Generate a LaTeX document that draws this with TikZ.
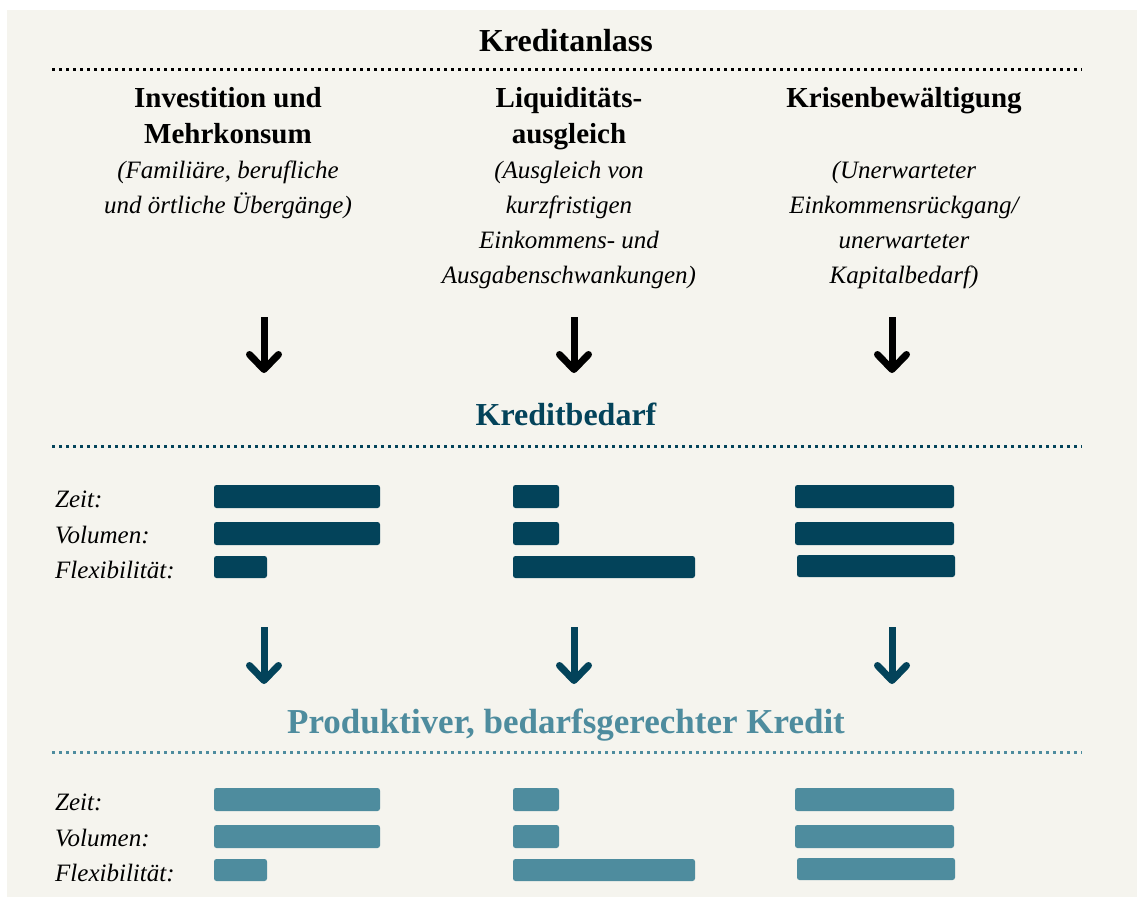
\documentclass[tikz,border=0pt]{standalone}
\usepackage{fontspec}
\setmainfont{Liberation Serif}
\usepackage{tikz}
\usetikzlibrary{arrows.meta,positioning,calc}
\definecolor{hintergrund}{RGB}{245,244,238}
\definecolor{dunkelblau}{RGB}{3,67,90}
\definecolor{hellblau}{RGB}{78,140,158}

\begin{document}
\begin{tikzpicture}[x=1pt,y=1pt]
\tikzstyle{pfeil}=[-{Straight Barb[length=15pt,width=29pt,round]},line width=7pt]
\tikzstyle{titel}=[font=\fontsize{32}{38}\selectfont\bfseries,inner sep=0pt,anchor=base]
\tikzstyle{kopf}=[font=\fontsize{29}{36}\selectfont\bfseries,align=center,inner sep=0pt,anchor=base]
\tikzstyle{erklaerung}=[font=\fontsize{25}{35}\selectfont\itshape,align=center,inner sep=0pt,anchor=base]
\tikzstyle{merkmal}=[font=\fontsize{25}{35}\selectfont\itshape,inner sep=0pt,anchor=base west]
\tikzstyle{balken}=[rounded corners=2.5pt]
\tikzstyle{punktlinie}=[line width=3pt,dash pattern=on 3pt off 4pt]
% Grundlinien (jeweils letzte Zeile)
\def\ZeileTitel{-51}
\def\ZeileKopfEins{-107}
\def\ZeileKopfZwei{-143}
\def\ZeileTextZwei{-213}
\def\ZeileTextVier{-283}
\def\ZeileBedarf{-425}
\def\ZeileKredit{-733}
\def\SpalteA{228}
\def\SpalteB{569}
\def\SpalteC{904}
\def\Mitte{566}
\def\Links{55}
% Rahmen
\useasboundingbox (0,0) rectangle (1144,-900);
\fill[hintergrund] (7,-10) rectangle (1137,-897);
% Kreditanlass
\node[titel] (Anlass) at (\Mitte,\ZeileTitel) {Kreditanlass};
\draw[punktlinie,black] (52,-69) -- (1082,-69);
\node[kopf] (KopfA) at (\SpalteA,\ZeileKopfZwei) {Investition und\\Mehrkonsum};
\node[kopf] (KopfB) at (\SpalteB,\ZeileKopfZwei) {Liquiditäts-\\ausgleich};
\node[kopf] (KopfC) at (\SpalteC,\ZeileKopfEins) {Krisenbewältigung};
\node[erklaerung] (TextA) at (\SpalteA,\ZeileTextZwei) {(Familiäre, berufliche\\und örtliche Übergänge)};
\node[erklaerung] (TextB) at (\SpalteB,\ZeileTextVier) {(Ausgleich von\\kurzfristigen\\Einkommens- und\\Ausgabenschwankungen)};
\node[erklaerung] (TextC) at (\SpalteC,\ZeileTextVier) {(Unerwarteter\\Einkommensrückgang/\\unerwarteter\\Kapitalbedarf)};
% Pfeile
\coordinate (PfeilAoben) at (264,-317);
\coordinate (PfeilAunten) at (264,-373);
\coordinate (PfeilBoben) at (574,-317);
\coordinate (PfeilBunten) at (574,-373);
\coordinate (PfeilCoben) at (892,-317);
\coordinate (PfeilCunten) at (892,-373);
\draw[pfeil,black] (PfeilAoben) -- (PfeilAunten);
\draw[pfeil,black] (PfeilBoben) -- (PfeilBunten);
\draw[pfeil,black] (PfeilCoben) -- (PfeilCunten);
% Kreditbedarf
\node[titel,text=dunkelblau] (Bedarf) at (\Mitte,\ZeileBedarf) {Kreditbedarf};
\draw[punktlinie,dunkelblau] (52,-446) -- (1082,-446);
\node[merkmal] (ZeitA) at (\Links,-507) {Zeit:};
\node[merkmal] (VolumenA) at (\Links,-543) {Volumen:};
\node[merkmal] (FlexA) at (\Links,-578) {Flexibilität:};
\fill[dunkelblau,balken] (214,-485) rectangle (380,-508);
\fill[dunkelblau,balken] (214,-522) rectangle (380,-545);
\fill[dunkelblau,balken] (214,-556) rectangle (267,-578);
\fill[dunkelblau,balken] (513,-485) rectangle (559,-508);
\fill[dunkelblau,balken] (513,-522) rectangle (559,-545);
\fill[dunkelblau,balken] (513,-556) rectangle (695,-578);
\fill[dunkelblau,balken] (795,-485) rectangle (954,-508);
\fill[dunkelblau,balken] (795,-522) rectangle (954,-545);
\fill[dunkelblau,balken] (797,-555) rectangle (955,-577);
\coordinate (PfeilDoben) at (264,-627);
\coordinate (PfeilDunten) at (264,-684);
\coordinate (PfeilEoben) at (574,-627);
\coordinate (PfeilEunten) at (574,-684);
\coordinate (PfeilFoben) at (892,-627);
\coordinate (PfeilFunten) at (892,-684);
\draw[pfeil,dunkelblau] (PfeilDoben) -- (PfeilDunten);
\draw[pfeil,dunkelblau] (PfeilEoben) -- (PfeilEunten);
\draw[pfeil,dunkelblau] (PfeilFoben) -- (PfeilFunten);
% Produktiver Kredit
\node[titel,text=hellblau,font=\fontsize{35}{42}\selectfont\bfseries] (Kredit) at (\Mitte,\ZeileKredit) {Produktiver, bedarfsgerechter Kredit};
\draw[punktlinie,hellblau] (52,-752) -- (1082,-752);
\node[merkmal] (ZeitB) at (\Links,-810) {Zeit:};
\node[merkmal] (VolumenB) at (\Links,-846) {Volumen:};
\node[merkmal] (FlexB) at (\Links,-881) {Flexibilität:};
\fill[hellblau,balken] (214,-788) rectangle (380,-811);
\fill[hellblau,balken] (214,-825) rectangle (380,-848);
\fill[hellblau,balken] (214,-859) rectangle (267,-881);
\fill[hellblau,balken] (513,-788) rectangle (559,-811);
\fill[hellblau,balken] (513,-825) rectangle (559,-848);
\fill[hellblau,balken] (513,-859) rectangle (695,-881);
\fill[hellblau,balken] (795,-788) rectangle (954,-811);
\fill[hellblau,balken] (795,-825) rectangle (954,-848);
\fill[hellblau,balken] (797,-858) rectangle (955,-880);
\end{tikzpicture}
\end{document}
